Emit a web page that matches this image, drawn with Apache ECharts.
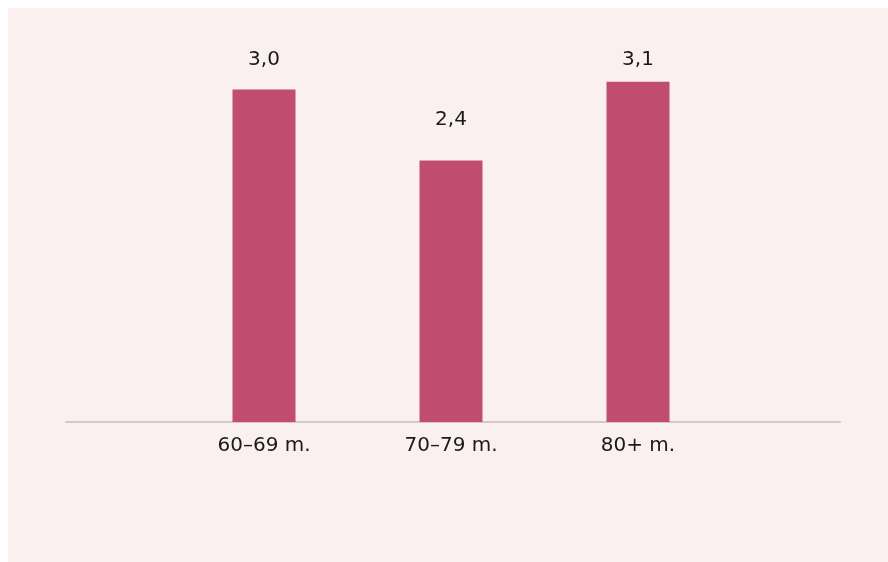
<!DOCTYPE html>
<html>
<head>
<meta charset="utf-8">
<script src="https://cdn.jsdelivr.net/npm/echarts@6/dist/echarts.min.js"></script>
<style>
html,body{margin:0;padding:0;background:#ffffff;}
#bg{position:absolute;left:8px;top:8px;width:880px;height:554px;background:#fbf0f0;}
#chart{position:absolute;left:0;top:0;width:888px;height:562px;}
</style>
</head>
<body>
<div id="bg"></div>
<div id="chart"></div>
<script>
const categories = ['60–69 m.', '70–79 m.', '80+ m.'];
const values = [3.0, 2.36, 3.07];
// label gap above each bar (style only)
const labelDistances = [20, 31, 12];

const chart = echarts.init(document.getElementById('chart'), null, {renderer: 'canvas'});
const font = 'DejaVu Sans';
chart.setOption({
  backgroundColor: 'transparent',
  animation: false,
  grid: [
    {left: 170.5, right: 156.5, top: 34, bottom: 140},
    {left: 66, right: 48, top: 34, bottom: 140}
  ],
  xAxis: [
    {
      type: 'category', gridIndex: 0, data: categories,
      axisLine: {show: false}, axisTick: {show: false},
      axisLabel: {color: '#1a1a1a', fontSize: 20, fontFamily: font, margin: 14}
    },
    {
      type: 'value', gridIndex: 1, min: 0, max: 1,
      axisLine: {show: true, lineStyle: {color: '#d6c8cc', width: 2}},
      axisTick: {show: false}, axisLabel: {show: false}, splitLine: {show: false}
    }
  ],
  yAxis: [
    {type: 'value', gridIndex: 0, min: 0, max: 3.5, show: false, splitLine: {show: false}},
    {type: 'value', gridIndex: 1, min: 0, max: 1, show: false, splitLine: {show: false}}
  ],
  series: [{
    type: 'bar', xAxisIndex: 0, yAxisIndex: 0,
    data: values.map((v, i) => ({value: v, label: {distance: labelDistances[i]}})),
    barWidth: 63,
    itemStyle: {color: '#c04d6f'},
    label: {
      show: true, position: 'top',
      color: '#1a1a1a', fontSize: 20, fontFamily: font,
      formatter: p => p.value.toFixed(1).replace('.', ',')
    }
  }]
});
</script>
</body>
</html>
